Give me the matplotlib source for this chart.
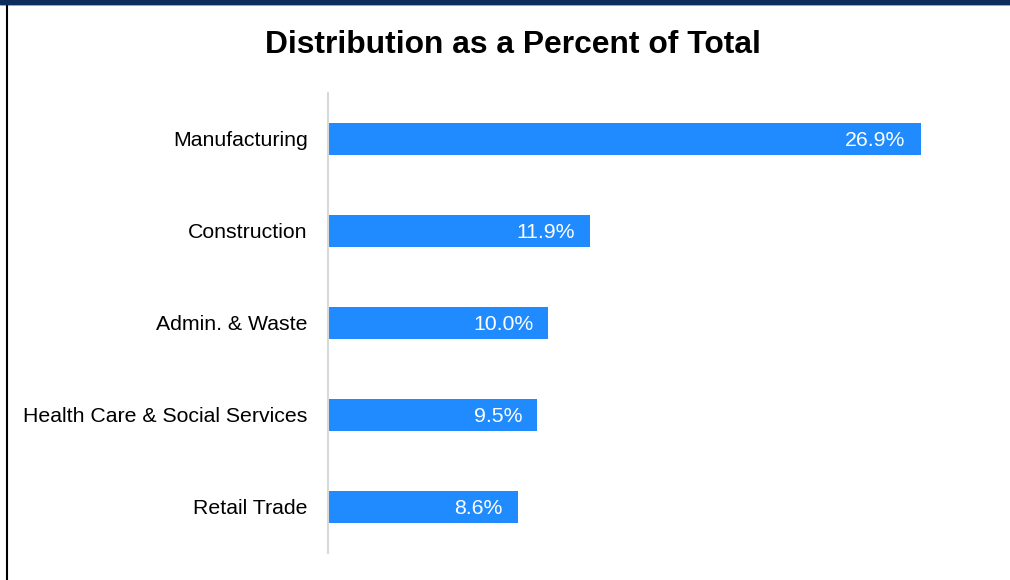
import matplotlib.pyplot as plt
from matplotlib.patches import Rectangle
from matplotlib.lines import Line2D

categories = ['Manufacturing', 'Construction', 'Admin. & Waste',
              'Health Care & Social Services', 'Retail Trade']
percents = [26.9, 11.9, 10.0, 9.5, 8.6]
title = 'Distribution as a Percent of Total'

plt.rcParams['font.family'] = ['Liberation Sans', 'DejaVu Sans']

W, H = 1010, 580
fig = plt.figure(figsize=(W / 100, H / 100), dpi=100)
fig.patch.set_facecolor('white')

# axes placed in pixel terms
ax_left, ax_right, ax_top, ax_bottom = 328, 960, 93, 553
ax = fig.add_axes([ax_left / W, 1 - ax_bottom / H,
                   (ax_right - ax_left) / W, (ax_bottom - ax_top) / H])

bar_color = '#1f8bff'
ypos = list(range(len(categories)))
ax.barh(ypos, percents, height=0.35, color=bar_color)

px_per_unit = (921 - 328) / 26.9
ax.set_xlim(0, (ax_right - ax_left) / px_per_unit)
ax.set_ylim(len(categories) - 0.5, -0.5)

for y, v in zip(ypos, percents):
    ax.annotate(f'{v:.1f}%', xy=(v, y), xytext=(-11, 0), textcoords='offset points',
                ha='right', va='center_baseline', color='white', fontsize=15.3)

ax.set_yticks(ypos)
ax.set_yticklabels(categories, fontsize=15.3)
ax.tick_params(axis='y', length=0, pad=14.5)
ax.set_xticks([])
for s in ['top', 'right', 'bottom']:
    ax.spines[s].set_visible(False)
ax.spines['left'].set_color('#d9d9d9')
ax.spines['left'].set_linewidth(1.5)

fig.text(512.5 / W, 1 - 53 / H, title, ha='center', va='baseline',
         fontsize=22.9, fontweight='bold')

# frame decoration: navy top band, thin gray line, left black rule
fig.patches.append(Rectangle((0, 1 - 3.5 / H), 1, 3.5 / H, transform=fig.transFigure,
                             color='#0d2d5e', zorder=10))
fig.lines.append(Line2D([0, 1], [1 - 4.5 / H, 1 - 4.5 / H], transform=fig.transFigure,
                        color='#c8c8c8', linewidth=0.8))
fig.lines.append(Line2D([6.5 / W, 6.5 / W], [0, 1 - 3.5 / H], transform=fig.transFigure,
                        color='black', linewidth=1.5))

fig.savefig('out.png', dpi=100)
